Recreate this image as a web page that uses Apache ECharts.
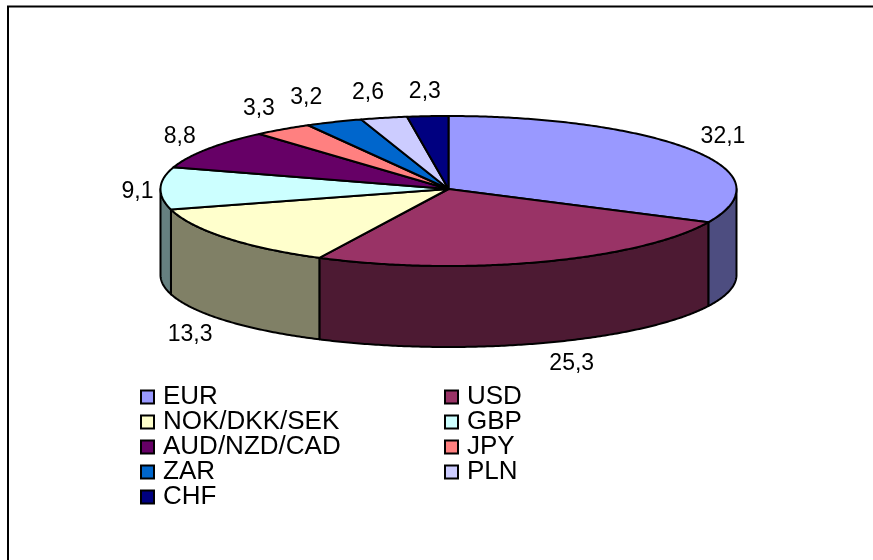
<!DOCTYPE html>
<html>
<head>
<meta charset="utf-8">
<style>html,body{margin:0;padding:0;background:#fff}#c{width:873px;height:560px}</style>
<script src="https://cdn.jsdelivr.net/npm/echarts@6/dist/echarts.min.js"></script>
</head>
<body>
<div id="c"></div>
<script>
const categories = ['EUR','USD','NOK/DKK/SEK','GBP','AUD/NZD/CAD','JPY','ZAR','PLN','CHF'];
const values = [32.1,25.3,13.3,9.1,8.8,3.3,3.2,2.6,2.3];
const topColors = ['#9999FF','#993366','#FFFFCC','#CCFFFF','#660066','#FF8080','#0066CC','#CCCCFF','#000080'];
const sideColors = ['#4D4D80','#4D1A33','#808066','#668080','#330033','#804040','#003366','#666680','#000040'];
const legendLeft = ['EUR','NOK/DKK/SEK','AUD/NZD/CAD','ZAR','CHF'];
const legendRight = ['USD','GBP','JPY','PLN'];

const cx = 448.5, cy = 189, rx = 288, ryBack = 73, ryFront = 77;
const wallCy = 275, wallRy = 72;
const labelCy = 190, labelRx = 328, labelRy = 100, labelDepth = 85;
const labelNudgeX = [-3,17,-5,17,6,-1,-12,-7,0];
const labelNudgeY = [0,-1,27,3,1,0,-1,0,1];
const total = values.reduce((a,b)=>a+b,0);
const startAt = []; values.reduce((acc,v,i)=>{startAt[i]=acc;return acc+v;},0);
const toAngle = v => v/total*2*Math.PI;
const topPt = a => {const c=Math.cos(a);return [cx+rx*Math.sin(a), cy-(c>0?ryBack:ryFront)*c];};
const wallPt = a => [cx+rx*Math.sin(a), wallCy-wallRy*Math.cos(a)];
function arc(a0,a1,fn){
  const n = Math.max(2,Math.ceil((a1-a0)/0.01)), out=[];
  for(let k=0;k<=n;k++) out.push(fn(a0+(a1-a0)*k/n));
  return out;
}
function lineStyle(fill){return {fill,stroke:'#000',lineWidth:2,lineJoin:'round'};}

function makeSeries(i){
  return {
    type:'custom', name:categories[i], coordinateSystem:'none',
    itemStyle:{color:topColors[i]}, silent:true, animation:false,
    data:[values[i]],
    renderItem(){
      const a0=toAngle(startAt[i]), a1=toAngle(startAt[i]+values[i]);
      const mid=(a0+a1)/2, children=[];
      const w0=Math.max(a0,Math.PI/2), w1=Math.min(a1,1.5*Math.PI);
      if(w1>w0){
        const upper=arc(w0,w1,topPt), lower=arc(w0,w1,wallPt).reverse();
        children.push({type:'polygon',shape:{points:upper.concat(lower)},style:lineStyle(sideColors[i]),z2:1});
      }
      children.push({type:'polygon',shape:{points:[[cx,cy]].concat(arc(a0,a1,topPt))},style:lineStyle(topColors[i]),z2:5});
      const c=Math.cos(mid), s=Math.sin(mid);
      children.push({type:'text',z2:10,style:{
        text:String(values[i]).replace('.',','),
        x:cx+labelRx*s+labelNudgeX[i],
        y:labelCy-labelRy*c+(c<0?-c*labelDepth:0)+labelNudgeY[i],
        fill:'#000',font:'23px "Liberation Sans", Arial, sans-serif',align:'center',verticalAlign:'middle'
      }});
      return {type:'group',children};
    }
  };
}

const legendBase = {
  orient:'vertical', icon:'rect', itemWidth:13, itemHeight:13, itemGap:-1, top:384, padding:0,
  selectedMode:false, inactiveColor:'#000',
  itemStyle:{borderColor:'#000',borderWidth:2},
  textStyle:{color:'#000',fontFamily:'"Liberation Sans", Arial, sans-serif',fontSize:26,lineHeight:20,padding:[0,0,4,4]}
};
const chart = echarts.init(document.getElementById('c'),null,{renderer:'canvas'});
chart.setOption({
  animation:false,
  backgroundColor:'#fff',
  legend:[
    Object.assign({},legendBase,{left:140,data:legendLeft}),
    Object.assign({},legendBase,{left:444,data:legendRight})
  ],
  series:categories.map((_,i)=>makeSeries(i)),
  graphic:[{type:'polyline',silent:true,shape:{points:[[8,560],[8,6.5],[873,6.5]]},style:{stroke:'#000',lineWidth:2,fill:null}}]
});
</script>
</body>
</html>
